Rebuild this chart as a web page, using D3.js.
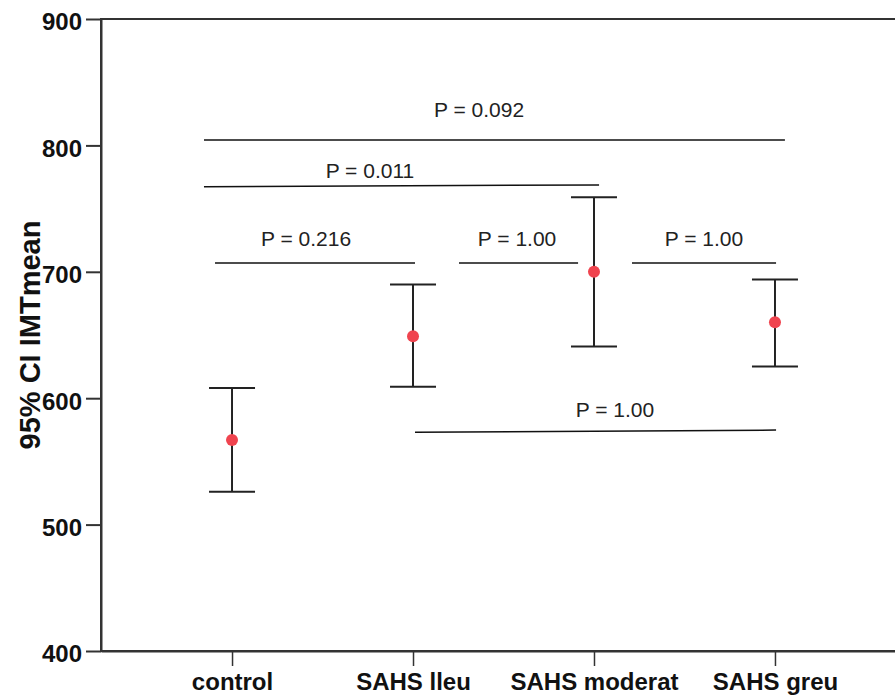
<!DOCTYPE html>
<html>
<head>
<meta charset="utf-8">
<script src="https://cdn.jsdelivr.net/npm/d3@7"></script>
<style>
  body { margin: 0; background: #fff; }
  svg { display: block; font-family: "Liberation Sans", Arial, sans-serif; }
</style>
</head>
<body>
<div id="chart"></div>
<script>
// groups and 95% CI of IMT mean
var cats  = ["control", "SAHS lleu", "SAHS moderat", "SAHS greu"]
var means = [567, 649, 700, 660]
var lower = [526, 609, 641, 625]
var upper = [608, 690, 759, 694]
var yTicks = [400, 500, 600, 700, 800, 900]

// p-value brackets (x in group index units, y in IMT units)
var pLabels = ["P = 0.092", "P = 0.011", "P = 0.216", "P = 1.00", "P = 1.00", "P = 1.00"]
var pFrom   = [-0.155, -0.155, -0.094, 1.254, 2.21, 1.011]
var pTo     = [3.055, 2.028, 1.011, 1.912, 3.006, 3.006]
var pYStart = [804.3, 767.3, 707, 707, 707, 573.0]
var pYEnd   = [804.3, 768.7, 707, 707, 707, 574.8]
var pTextX  = [1.365, 0.762, 0.409, 1.575, 2.608, 2.116]
var pTextY  = [822.5, 774.2, 720.6, 720.6, 720.6, 585.4]

var margin = {top: 19, left: 101, bottom: 44},
    W = 895, H = 695,
    width = 805,
    height = H - margin.top - margin.bottom;

var svg = d3.select("#chart").append("svg")
    .attr("width", W)
    .attr("height", H)
  .append("g")
    .attr("transform", "translate(" + margin.left + "," + margin.top + ")");

var x = d3.scalePoint()
    .domain(cats)
    .range([0, width])
    .padding(0.724);

var xi = d3.scaleLinear()
    .domain([0, cats.length - 1])
    .range([x(cats[0]), x(cats[cats.length - 1])]);

var y = d3.scaleLinear()
    .domain([400, 900])
    .range([height, 0]);

// frame
svg.append("rect")
    .attr("x", 0).attr("y", 0)
    .attr("width", width).attr("height", height)
    .attr("fill", "none")
    .attr("stroke", "#333")
    .attr("stroke-width", 2);

// y axis
var yAxis = svg.append("g")
    .call(d3.axisLeft(y).tickValues(yTicks).tickSize(15).tickSizeOuter(0).tickPadding(4));
yAxis.select(".domain").attr("stroke", "#333").attr("stroke-width", 2);
yAxis.selectAll(".tick line").attr("stroke", "#333").attr("stroke-width", 2);
yAxis.selectAll("text")
    .attr("font-size", 24)
    .attr("font-weight", "bold")
    .attr("fill", "#111")
    .attr("font-family", "Liberation Sans, Arial, sans-serif")
    .attr("dy", "0.45em");

// x axis
var xAxis = svg.append("g")
    .attr("transform", "translate(0," + height + ")")
    .call(d3.axisBottom(x).tickSize(15).tickSizeOuter(0).tickPadding(7));
xAxis.select(".domain").attr("stroke", "#333").attr("stroke-width", 2);
xAxis.selectAll(".tick line").attr("stroke", "#333").attr("stroke-width", 1.5);
xAxis.selectAll("text")
    .attr("font-size", 24)
    .attr("font-weight", "bold")
    .attr("fill", "#111")
    .attr("font-family", "Liberation Sans, Arial, sans-serif");

// y label
svg.append("text")
    .attr("transform", "rotate(-90)")
    .attr("x", -height / 2)
    .attr("y", -margin.left + 40)
    .attr("text-anchor", "middle")
    .attr("font-size", 29)
    .attr("font-weight", "bold")
    .attr("fill", "#111")
    .text("95% CI IMTmean");

// error bars
var bars = svg.selectAll(".bar")
  .data(cats)
  .enter().append("g");

bars.append("line")
    .attr("x1", function(d){ return x(d) })
    .attr("x2", function(d){ return x(d) })
    .attr("y1", function(d, i){ return y(lower[i]) })
    .attr("y2", function(d, i){ return y(upper[i]) })
    .attr("stroke", "#222").attr("stroke-width", 2);

bars.append("line")
    .attr("x1", function(d){ return x(d) - 23 })
    .attr("x2", function(d){ return x(d) + 23 })
    .attr("y1", function(d, i){ return y(upper[i]) })
    .attr("y2", function(d, i){ return y(upper[i]) })
    .attr("stroke", "#222").attr("stroke-width", 2);

bars.append("line")
    .attr("x1", function(d){ return x(d) - 23 })
    .attr("x2", function(d){ return x(d) + 23 })
    .attr("y1", function(d, i){ return y(lower[i]) })
    .attr("y2", function(d, i){ return y(lower[i]) })
    .attr("stroke", "#222").attr("stroke-width", 2);

bars.append("circle")
    .attr("cx", function(d){ return x(d) })
    .attr("cy", function(d, i){ return y(means[i]) })
    .attr("r", 6)
    .attr("fill", "#f0444f");

// p-value lines and labels
pLabels.forEach(function(lab, i) {
  svg.append("line")
      .attr("x1", xi(pFrom[i]))
      .attr("x2", xi(pTo[i]))
      .attr("y1", y(pYStart[i]))
      .attr("y2", y(pYEnd[i]))
      .attr("stroke", "#111")
      .attr("stroke-width", 1.5);
  svg.append("text")
      .attr("x", xi(pTextX[i]))
      .attr("y", y(pTextY[i]))
      .attr("text-anchor", "middle")
      .attr("font-size", 21)
      .attr("fill", "#222")
      .text(lab);
});
</script>
</body>
</html>
